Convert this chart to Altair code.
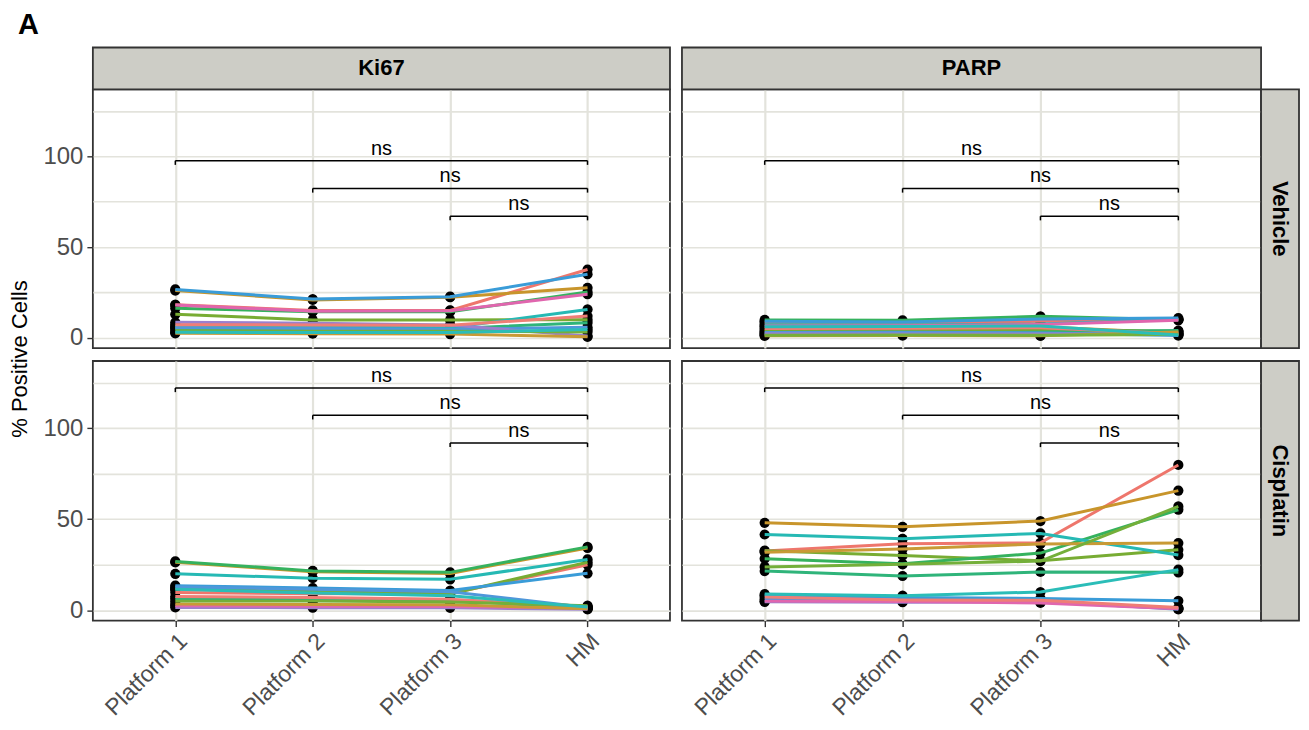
import json
import altair as alt
import pandas as pd

# ---------------- data ----------------
categories = ["Platform 1", "Platform 2", "Platform 3", "HM"]
markers = ["Ki67", "PARP"]
treatments = ["Vehicle", "Cisplatin"]
samples = [f"S{i}" for i in range(1, 15)]
sample_colors = ["#EE766C", "#C8952B", "#78AC33", "#35B25E", "#2FB47A", "#26B9B4", "#3A9CD8",
                 "#4F97DA", "#9A80CE", "#E066AE", "#EF7E76", "#C89A35", "#74AF3A", "#2BBDB8"]

# rows = samples S1..S14, columns = categories
ki67_vehicle = [
    [18.2, 15.0, 15.0, 37.6], [26.0, 20.8, 22.3, 27.5], [12.9, 9.8, 9.8, 9.9], [16.3, 14.3, 14.3, 25.2],
    [5.0, 5.0, 5.0, 8.3], [6.4, 5.8, 5.5, 15.6], [26.6, 21.3, 22.6, 35.0], [5.5, 5.0, 4.6, 5.8],
    [8.5, 8.0, 7.0, 0.9], [18.0, 14.6, 14.8, 24.0], [7.2, 7.0, 6.8, 11.9], [2.4, 2.2, 2.0, 0.5],
    [3.8, 3.6, 3.5, 3.2], [3.0, 2.8, 2.8, 4.5],
]
parp_vehicle = [
    [8.2, 8.0, 9.0, 10.2], [4.2, 4.5, 6.0, 2.6], [3.5, 3.8, 4.5, 3.5], [9.8, 9.6, 11.8, 9.9],
    [2.0, 2.5, 3.0, 3.9], [7.2, 7.0, 7.5, 10.0], [9.0, 8.6, 10.3, 10.8], [2.8, 3.0, 2.6, 1.2],
    [2.2, 2.0, 2.0, 2.0], [6.5, 6.6, 7.3, 9.6], [5.0, 5.2, 5.5, 2.2], [1.0, 1.2, 1.0, 3.2],
    [1.4, 1.5, 1.3, 1.8], [6.0, 6.2, 6.5, 1.5],
]
ki67_cisplatin = [
    [9.8, 9.0, 9.2, 25.0], [26.3, 21.2, 20.2, 34.2], [11.7, 10.3, 8.9, 26.4], [26.8, 21.6, 20.8, 34.8],
    [6.5, 6.0, 5.5, 1.0], [20.0, 17.6, 17.0, 27.9], [13.5, 12.2, 10.8, 20.3], [12.8, 11.5, 10.2, 1.5],
    [1.5, 1.4, 1.3, 0.5], [2.5, 2.2, 2.0, 1.2], [7.5, 7.0, 6.0, 2.0], [3.4, 3.2, 3.0, 0.8],
    [5.0, 5.0, 4.5, 2.5], [11.5, 9.5, 8.0, 1.8],
]
parp_cisplatin = [
    [32.5, 36.5, 37.0, 79.8], [48.0, 45.8, 49.0, 65.7], [32.7, 30.0, 27.2, 33.2], [28.3, 25.5, 31.4, 55.2],
    [21.5, 18.8, 21.0, 20.8], [41.6, 39.2, 42.2, 30.3], [8.2, 7.0, 6.5, 5.2], [6.0, 5.2, 5.0, 0.5],
    [4.6, 4.4, 4.5, 1.0], [5.0, 4.8, 4.0, 0.8], [7.3, 5.6, 5.5, 1.5], [31.8, 33.6, 36.4, 36.9],
    [23.8, 25.2, 27.0, 57.0], [8.9, 8.0, 10.0, 22.3],
]

bracket_start = ["Platform 1", "Platform 2", "Platform 3"]
bracket_end = ["HM", "HM", "HM"]
bracket_y_vehicle = [97.6, 82.3, 67.0]
bracket_y_cisplatin = [122.1, 107.1, 91.9]
bracket_label = ["ns", "ns", "ns"]
tip_length = 2.3

y_domain = [-5.7, 136.9]
y_grid_values = [0, 25, 50, 75, 100, 125]

# ---------------- style ----------------
FONT = "Liberation Sans"
BORDER = "#333333"
STRIP_FILL = "#CDCDC6"
GRID = "#E3E3DC"
TEXT_GRAY = "#4D4D4D"
STRIP_H = 42
STRIP_W = 38

label_expr = json.dumps(categories) + "[datum.value]"
major = "datum.value % 50 === 0"


def panel(marker, treatment, values, brackets_y, width, height, show_x, show_y, top_strip, right_strip, extras=False):
    rows = []
    for s, vals in zip(samples, values):
        for i, (c, v) in enumerate(zip(categories, vals)):
            rows.append({"sample": s, "category": c, "idx": i, "value": v})
    df = pd.DataFrame(rows)

    br = pd.DataFrame({
        "idx": [categories.index(c) for c in bracket_start],
        "idx2": [categories.index(c) for c in bracket_end],
        "value": brackets_y,
        "label": bracket_label,
    })
    br["mid"] = (br["idx"] + br["idx2"]) / 2
    tips = pd.concat([
        pd.DataFrame({"idx": br["idx"], "value": br["value"]}),
        pd.DataFrame({"idx": br["idx2"], "value": br["value"]}),
    ])
    tips["value2"] = tips["value"] - tip_length

    xaxis = alt.Axis(
        values=[0, 1, 2, 3], labelExpr=label_expr, title=None, domain=False,
        grid=True, gridColor=GRID, gridWidth=2.2,
        labels=show_x, ticks=show_x, tickColor=BORDER, tickSize=6, tickWidth=1.4,
        labelAngle=-45, labelAlign="right", labelBaseline="top", labelFontSize=23,
        labelColor=TEXT_GRAY, labelPadding=3, labelFont=FONT,
    )
    yaxis = alt.Axis(
        values=y_grid_values, title=None, domain=False,
        grid=True, gridColor=GRID, gridWidth=1.6,
        labels=show_y, ticks=show_y, tickColor=BORDER, tickSize=6, tickWidth=1.4,
        tickOpacity={"condition": {"test": major, "value": 1}, "value": 0},
        labelExpr=f"{major} ? datum.label : ''",
        labelFontSize=24, labelColor=TEXT_GRAY, labelPadding=4, labelFont=FONT,
    )
    xs = alt.Scale(domain=[-0.6, 3.6], nice=False, zero=False)
    ys = alt.Scale(domain=y_domain, nice=False, zero=False)

    base = alt.Chart(df)
    points = base.mark_circle(size=105, color="black", opacity=1).encode(
        x=alt.X("idx:Q", scale=xs, axis=xaxis), y=alt.Y("value:Q", scale=ys, axis=yaxis)
    )
    lines = base.mark_line(strokeWidth=3).encode(
        x=alt.X("idx:Q", scale=xs, axis=xaxis),
        y=alt.Y("value:Q", scale=ys, axis=yaxis),
        color=alt.Color("sample:N", scale=alt.Scale(domain=samples, range=sample_colors), legend=None),
        order="idx:Q",
    )
    hrule = alt.Chart(br).mark_rule(color="black", strokeWidth=1.5).encode(
        x=alt.X("idx:Q", scale=xs, axis=xaxis), x2="idx2:Q",
        y=alt.Y("value:Q", scale=ys, axis=yaxis),
    )
    vrule = alt.Chart(tips).mark_rule(color="black", strokeWidth=1.5).encode(
        x=alt.X("idx:Q", scale=xs, axis=xaxis),
        y=alt.Y("value:Q", scale=ys, axis=yaxis), y2="value2:Q",
    )
    ns = alt.Chart(br).mark_text(fontSize=20, font=FONT, color="black", baseline="alphabetic", dy=-6).encode(
        x=alt.X("mid:Q", scale=xs, axis=xaxis),
        y=alt.Y("value:Q", scale=ys, axis=yaxis), text="label:N",
    )
    layers = [points, lines, hrule, vrule, ns]
    one = alt.Chart(pd.DataFrame({"k": [0]}))
    if top_strip:
        layers.append(one.mark_rect(fill=STRIP_FILL, stroke=BORDER, strokeWidth=1.8).encode(
            x=alt.value(0), x2=alt.value(width), y=alt.value(-STRIP_H), y2=alt.value(0)))
        layers.append(one.mark_text(text=marker, fontSize=22, fontWeight="bold", font=FONT, color="black",
                                    align="center", baseline="middle").encode(
            x=alt.value(width / 2), y=alt.value(-STRIP_H / 2)))
    if right_strip:
        layers.append(one.mark_rect(fill=STRIP_FILL, stroke=BORDER, strokeWidth=1.8).encode(
            x=alt.value(width), x2=alt.value(width + STRIP_W), y=alt.value(0), y2=alt.value(height)))
        layers.append(one.mark_text(text=treatment, fontSize=22, fontWeight="bold", font=FONT, color="black",
                                    angle=90, align="center", baseline="middle").encode(
            x=alt.value(width + STRIP_W / 2), y=alt.value(height / 2)))
    if extras:
        # panel letter, shared y-axis title, and a layout anchor
        layers.append(one.mark_rect(opacity=0).encode(
            x=alt.value(-84), x2=alt.value(-83), y=alt.value(-80), y2=alt.value(-79)))
        layers.append(one.mark_text(text="A", fontSize=29, fontWeight="bold", font=FONT, color="black",
                                    align="left", baseline="alphabetic").encode(
            x=alt.value(-75), y=alt.value(-56)))
        layers.append(one.mark_text(text="% Positive Cells", fontSize=22, font=FONT, color="black",
                                    angle=270, align="center", baseline="middle").encode(
            x=alt.value(-73), y=alt.value(270)))
    return alt.layer(*layers).properties(width=width, height=height)


p11 = panel("Ki67", "Vehicle", ki67_vehicle, bracket_y_vehicle, 578, 259, False, True, True, False, extras=True)
p12 = panel("PARP", "Vehicle", parp_vehicle, bracket_y_vehicle, 580, 259, False, False, True, True)
p21 = panel("Ki67", "Cisplatin", ki67_cisplatin, bracket_y_cisplatin, 578, 260, True, True, False, False)
p22 = panel("PARP", "Cisplatin", parp_cisplatin, bracket_y_cisplatin, 580, 260, True, False, False, True)

chart = (
    alt.concat(p11, p12, p21, p22, columns=2, spacing={"row": 13, "column": 12}, bounds="flush")
    .properties(padding=0)
    .configure(font=FONT)
    .configure_view(stroke=BORDER, strokeWidth=1.8)
)

chart.save("out.html", embed_options={"renderer": "svg", "actions": False})
